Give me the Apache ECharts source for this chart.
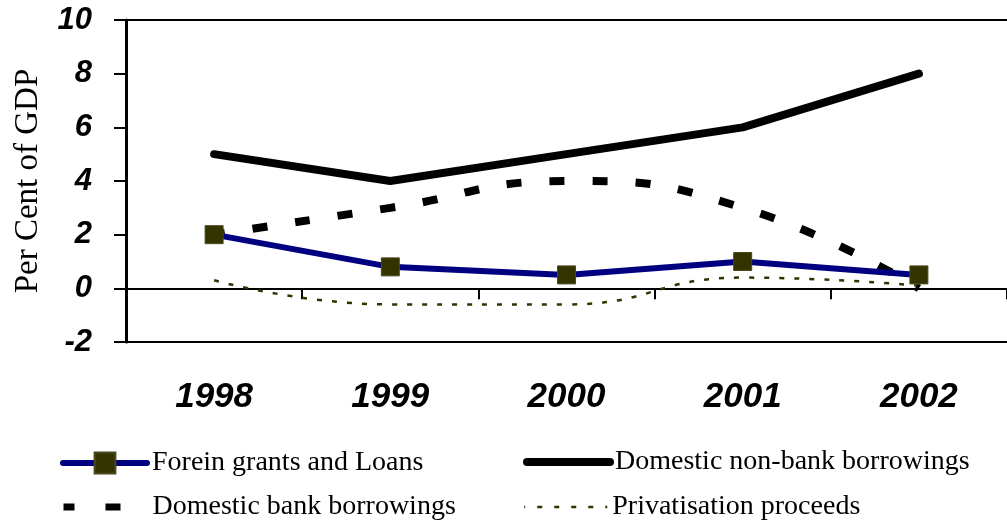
<!DOCTYPE html>
<html>
<head>
<meta charset="utf-8">
<script src="https://cdn.jsdelivr.net/npm/echarts@6/dist/echarts.min.js"></script>
<style>
  html, body { margin: 0; padding: 0; background: #fff; }
  #chart { width: 1007px; height: 528px; }
</style>
</head>
<body>
<div id="chart"></div>
<script>
// Financing of the budget deficit, per cent of GDP
const years = ['1998', '1999', '2000', '2001', '2002'];
const foreignGrants = [2.0, 0.8, 0.5, 1.0, 0.5];
const domesticNonBank = [5, 4, 5, 6, 8];
const domesticBank = [2, 3, 4, 3, 0];
const privatisation = [0.3, -0.6, -0.6, 0.4, 0.1];

const NAME_FOREIGN = 'Forein grants and Loans';
const NAME_NONBANK = 'Domestic non-bank borrowings';
const NAME_BANK = 'Domestic bank borrowings';
const NAME_PRIV = 'Privatisation proceeds';

const SERIF = '"Liberation Serif", "Times New Roman", Times, serif';
const SANS = '"Liberation Sans", Arial, Helvetica, sans-serif';
const HIDDEN_SYMBOL = { color: 'rgba(0,0,0,0)', borderColor: 'rgba(0,0,0,0)', borderWidth: 0 };

function legendItem(item, left, top, itemWidth) {
  return {
    data: [item],
    left: left,
    top: top,
    orient: 'horizontal',
    padding: 0,
    itemGap: 0,
    itemWidth: itemWidth,
    itemHeight: 26,
    selectedMode: false,
    textStyle: { fontFamily: SERIF, fontSize: 28, color: '#000' }
  };
}

const chart = echarts.init(document.getElementById('chart'), null, { renderer: 'canvas' });

chart.setOption({
  animation: false,
  backgroundColor: '#fff',
  grid: { left: 126, right: 0, top: 20, bottom: 186, containLabel: false },
  legend: [
    legendItem({ name: NAME_FOREIGN, lineStyle: { width: 6, cap: 'round' } }, 60, 449, 84),
    legendItem({ name: NAME_NONBANK, lineStyle: { width: 8, cap: 'round' }, itemStyle: HIDDEN_SYMBOL }, 523, 448, 83),
    legendItem({ name: NAME_BANK, lineStyle: { width: 7, type: [15, 31] }, itemStyle: HIDDEN_SYMBOL }, 60, 493, 84),
    legendItem({ name: NAME_PRIV, lineStyle: { width: 2.5, type: [5, 12] }, itemStyle: HIDDEN_SYMBOL }, 523, 493, 83)
  ],
  xAxis: [
    {
      type: 'category',
      data: years,
      boundaryGap: true,
      axisLine: { show: true, onZero: true, lineStyle: { color: '#000', width: 2 } },
      axisTick: { show: true, length: 11, lineStyle: { color: '#000', width: 2 } },
      axisLabel: {
        margin: 38,
        color: '#000',
        fontFamily: SANS,
        fontWeight: 'bold',
        fontStyle: 'italic',
        fontSize: 35
      },
      splitLine: { show: false }
    },
    {
      type: 'category',
      data: years,
      position: 'top',
      axisLine: { show: true, onZero: false, lineStyle: { color: '#000', width: 2 } },
      axisTick: { show: false },
      axisLabel: { show: false },
      splitLine: { show: false }
    },
    {
      type: 'category',
      data: years,
      position: 'bottom',
      axisLine: { show: true, onZero: false, lineStyle: { color: '#000', width: 2 } },
      axisTick: { show: false },
      axisLabel: { show: false },
      splitLine: { show: false }
    }
  ],
  yAxis: {
    type: 'value',
    min: -2,
    max: 10,
    interval: 2,
    name: 'Per Cent of GDP',
    nameLocation: 'middle',
    nameRotate: 90,
    nameGap: 81,
    nameTextStyle: { fontFamily: SERIF, fontSize: 33, color: '#000' },
    axisLine: { show: true, lineStyle: { color: '#000', width: 3 } },
    axisTick: { show: true, length: 12, lineStyle: { color: '#000', width: 2 } },
    axisLabel: {
      margin: 34,
      color: '#000',
      fontFamily: SANS,
      fontWeight: 'bold',
      fontStyle: 'italic',
      fontSize: 31
    },
    splitLine: { show: false }
  },
  series: [
    {
      name: NAME_PRIV,
      type: 'line',
      data: privatisation,
      smooth: 0.5,
      symbol: 'none',
      lineStyle: { color: '#333300', width: 2.5, type: [5, 10] },
      itemStyle: { color: '#333300' }
    },
    {
      name: NAME_BANK,
      type: 'line',
      data: domesticBank,
      smooth: 0.5,
      symbol: 'none',
      lineStyle: { color: '#000', width: 8, type: [15, 28], dashOffset: 4 },
      itemStyle: { color: '#000' }
    },
    {
      name: NAME_NONBANK,
      type: 'line',
      data: domesticNonBank,
      symbol: 'none',
      lineStyle: { color: '#000', width: 8, cap: 'round', join: 'round' },
      itemStyle: { color: '#000' }
    },
    {
      name: NAME_FOREIGN,
      type: 'line',
      data: foreignGrants,
      symbol: 'rect',
      symbolSize: 18,
      showAllSymbol: true,
      lineStyle: { color: '#000080', width: 6, cap: 'round', join: 'round' },
      itemStyle: { color: '#333300', borderColor: '#4a4a1c', borderWidth: 1 }
    }
  ]
});
</script>
</body>
</html>
